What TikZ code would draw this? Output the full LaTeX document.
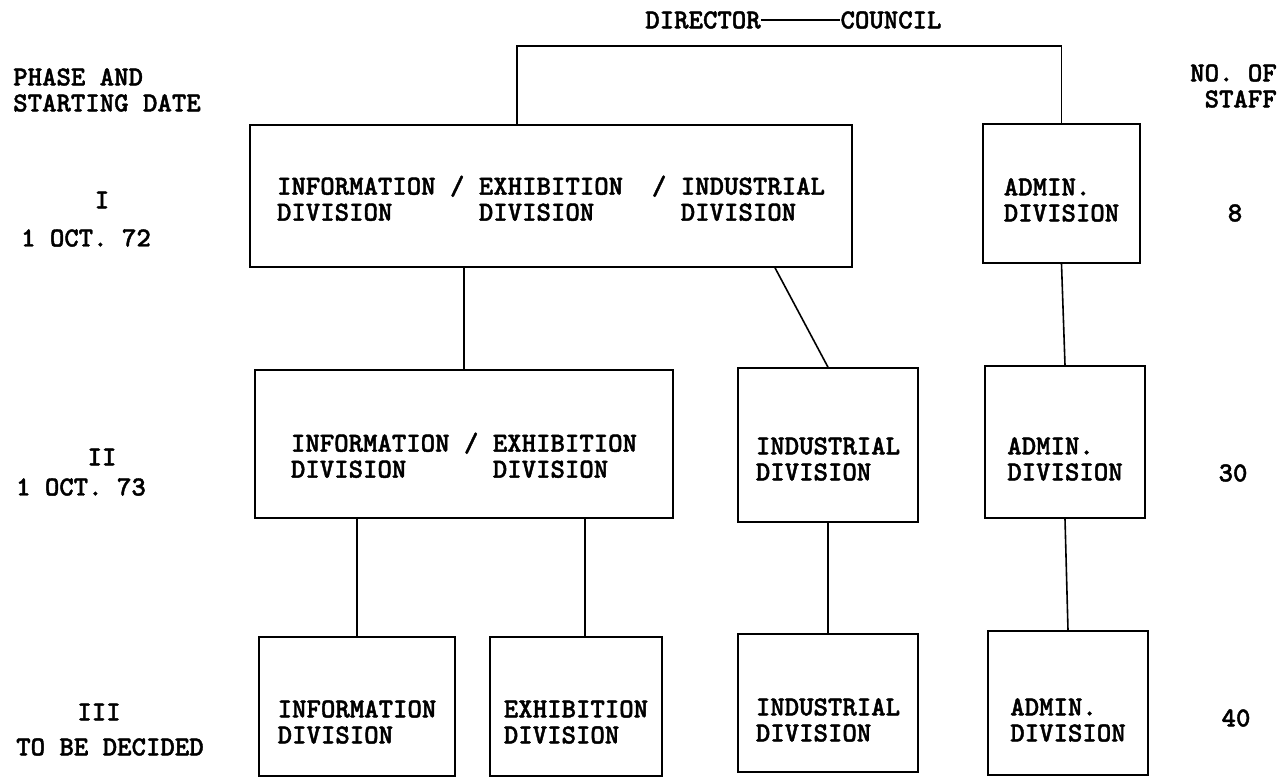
\documentclass[tikz,border=0pt]{standalone}
\usepackage{fontspec}
\newfontfamily\typew{lmmonolt10-bold.otf}[FakeBold=1.5]
\begin{document}
\begin{tikzpicture}[x=0.75pt,y=0.75pt,yscale=-1,xscale=1,
  divbox/.style={draw, line width=1.2pt, inner sep=0pt},
  divtext/.style={inner sep=0pt, align=left, font=\typew\fontsize{20.6}{19.5}\selectfont},
  sidetext/.style={inner sep=0pt, font=\typew\fontsize{20.6}{19.5}\selectfont},
  link/.style={line width=1.2pt}]
\useasboundingbox (0,0) rectangle (1279,781);

% Text Node
\node[sidetext] (dir) at (703,20) {DIRECTOR};
% Text Node
\node[sidetext] (cou) at (891,20) {COUNCIL};
\draw[line width=1pt] (dir.east) -- (cou.west);

% Text Node
\node[sidetext, align=left, anchor=west] (phase) at (13,90) {PHASE AND\\STARTING DATE};
% Text Node
\node[sidetext, align=right, anchor=east] (staff) at (1277,86) {NO. OF\\STAFF};

% Text Node
\node[sidetext] (ph1) at (102,200) {I};
\node[sidetext] (d1) at (86,238) {1 OCT. 72};
\node[sidetext] (ph2) at (102,457) {II};
\node[sidetext] (d2) at (81,487) {1 OCT. 73};
\node[sidetext] (ph3) at (99,712) {III};
\node[sidetext] (d3) at (110,747) {TO BE DECIDED};

% Text Node
\node[sidetext] (n1) at (1235,213) {8};
\node[sidetext] (n2) at (1233,473) {30};
\node[sidetext] (n3) at (1236,718) {40};

%Shape: Rectangle -- phase I
\node[divbox, minimum width=451.5pt, minimum height=106.5pt] (boxI) at (551,196) {};
\node[divtext] (txtI) at (551,202) {\begin{tabular}{@{}l@{\ }c@{\ }l@{\ \ }c@{\ }l@{}}INFORMATION & / & EXHIBITION & / & INDUSTRIAL\\ DIVISION & & DIVISION & & DIVISION\end{tabular}};
\node[divbox, minimum width=117.75pt, minimum height=104.25pt] (adminI) at (1061.5,193.5) {};
\node[divtext] (txtAdminI) at (1061.5,200) {ADMIN.\\DIVISION};

%Shape: Rectangle -- phase II
\node[divbox, minimum width=313.5pt, minimum height=111pt] (boxII) at (464,444) {};
\node[divtext] (txtII) at (464,459) {\begin{tabular}{@{}l@{\ }c@{\ }l@{}}INFORMATION & / & EXHIBITION\\ DIVISION & & DIVISION\end{tabular}};
\node[divbox, minimum width=135pt, minimum height=115.5pt] (indII) at (828,445) {};
\node[divtext] (txtIndII) at (828,459) {INDUSTRIAL\\DIVISION};
\node[divbox, minimum width=120pt, minimum height=114pt] (adminII) at (1065,442) {};
\node[divtext] (txtAdminII) at (1065,459) {ADMIN.\\DIVISION};

%Shape: Rectangle -- phase III
\node[divbox, minimum width=147pt, minimum height=104.25pt] (infoIII) at (357,706.5) {};
\node[divtext] (txtInfoIII) at (357,722) {INFORMATION\\DIVISION};
\node[divbox, minimum width=129pt, minimum height=104.25pt] (exhibIII) at (576,706.5) {};
\node[divtext] (txtExhibIII) at (576,722) {EXHIBITION\\DIVISION};
\node[divbox, minimum width=135pt, minimum height=103.5pt] (indIII) at (828,703) {};
\node[divtext] (txtIndIII) at (828,720) {INDUSTRIAL\\DIVISION};
\node[divbox, minimum width=120pt, minimum height=108pt] (adminIII) at (1068,703) {};
\node[divtext] (txtAdminIII) at (1068,720) {ADMIN.\\DIVISION};

%Straight Lines
\coordinate (dirL) at (517,46);
\draw[link] (dirL |- boxI.north) -- (dirL) -| (adminI.north);
\draw[link] (boxII.north |- boxI.south) -- (boxII.north);
\coordinate (slantTop) at (775,0);
\draw[link] (slantTop |- boxI.south) -- (indII.north);
\draw[link] (adminI.south) -- (adminII.north);
\draw[link] (infoIII.north |- boxII.south) -- (infoIII.north);
\coordinate (exLink) at (585,0);
\draw[link] (exLink |- boxII.south) -- (exLink |- exhibIII.north);
\draw[link] (indII.south) -- (indIII.north);
\draw[link] (adminII.south) -- (adminIII.north);

\end{tikzpicture}
\end{document}
